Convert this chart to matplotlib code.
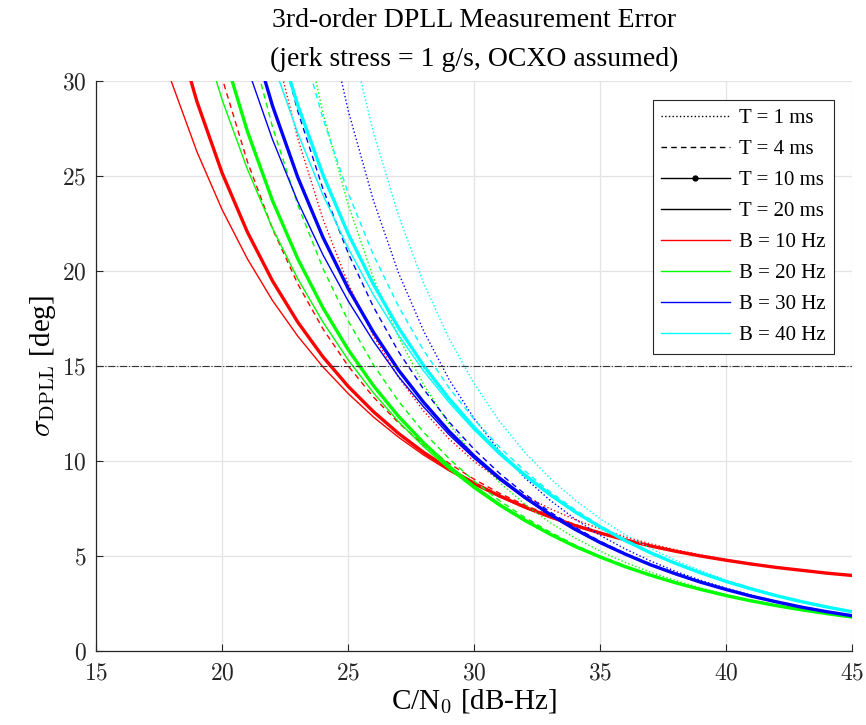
import numpy as np
import matplotlib
matplotlib.use("Agg")
import matplotlib.pyplot as plt
from matplotlib.lines import Line2D

plt.rcParams['font.family'] = ['Liberation Serif', 'DejaVu Serif']
plt.rcParams['mathtext.fontset'] = 'cm'

nan = np.nan

# C/N0 grid [dB-Hz] (sigma_DPLL in deg)
cn0 = list(range(17, 46))

# B = 10 Hz
b10_t1 = [nan, nan, nan, nan, 38.99, 32.31, 27.00, 22.75, 19.35, 16.62, 14.42, 12.64, 11.19, 10.00,
          9.02, 8.20, 7.52, 6.94, 6.45, 6.03, 5.66, 5.35, 5.08, 4.84, 4.63, 4.44, 4.28, 4.13, 4.01]
b10_t4 = [nan, nan, 35.60, 30.16, 25.78, 22.23, 19.34, 16.97, 15.02, 13.39, 12.03, 10.87, 9.90, 9.06,
          8.33, 7.71, 7.16, 6.68, 6.27, 5.90, 5.57, 5.28, 5.03, 4.80, 4.60, 4.42, 4.27, 4.13, 4.00]
b10_t10 = [nan, 33.52, 28.93, 25.17, 22.07, 19.49, 17.33, 15.50, 13.95, 12.62, 11.47, 10.47, 9.61, 8.85,
           8.19, 7.60, 7.09, 6.63, 6.23, 5.87, 5.55, 5.27, 5.02, 4.80, 4.60, 4.42, 4.27, 4.12, 4.00]
b10_t20 = [34.32, 29.93, 26.29, 23.24, 20.66, 18.46, 16.59, 14.97, 13.57, 12.34, 11.27, 10.33, 9.51, 8.78,
           8.14, 7.57, 7.06, 6.61, 6.21, 5.86, 5.55, 5.27, 5.02, 4.79, 4.60, 4.42, 4.26, 4.12, 4.00]

# B = 20 Hz
b20_t1 = [nan, nan, nan, nan, nan, 41.85, 34.34, 28.33, 23.52, 19.66, 16.54, 14.03, 11.97, 10.29,
          8.90, 7.76, 6.79, 5.97, 5.28, 4.68, 4.17, 3.73, 3.34, 2.99, 2.70, 2.44, 2.21, 2.00, 1.82]
b20_t4 = [nan, nan, nan, 38.82, 32.61, 27.59, 23.50, 20.16, 17.39, 15.09, 13.16, 11.53, 10.15, 8.96,
          7.94, 7.06, 6.29, 5.61, 5.02, 4.49, 4.04, 3.63, 3.27, 2.95, 2.67, 2.42, 2.19, 1.99, 1.81]
b20_t10 = [nan, nan, 37.07, 31.76, 27.37, 23.71, 20.66, 18.08, 15.88, 13.99, 12.37, 10.97, 9.74, 8.67,
           7.73, 6.91, 6.18, 5.53, 4.97, 4.46, 4.01, 3.61, 3.26, 2.94, 2.66, 2.41, 2.19, 1.99, 1.81]
b20_t20 = [nan, nan, 33.34, 29.02, 25.38, 22.26, 19.61, 17.33, 15.34, 13.61, 12.09, 10.77, 9.60, 8.57,
           7.66, 6.86, 6.15, 5.51, 4.95, 4.44, 4.00, 3.61, 3.25, 2.93, 2.65, 2.41, 2.18, 1.99, 1.81]

# B = 30 Hz
b30_t1 = [nan, nan, nan, nan, nan, nan, 41.70, 34.35, 28.47, 23.74, 19.91, 16.85, 14.32, 12.26,
          10.56, 9.15, 7.97, 6.97, 6.11, 5.39, 4.76, 4.21, 3.74, 3.33, 2.96, 2.64, 2.36, 2.11, 1.89]
b30_t4 = [nan, nan, nan, nan, nan, 33.45, 28.43, 24.34, 20.96, 18.14, 15.77, 13.79, 12.08, 10.64,
          9.38, 8.30, 7.35, 6.53, 5.80, 5.16, 4.60, 4.10, 3.66, 3.27, 2.92, 2.61, 2.34, 2.10, 1.88]
b30_t10 = [nan, nan, nan, nan, 33.17, 28.70, 24.95, 21.79, 19.10, 16.80, 14.80, 13.10, 11.59, 10.28,
           9.13, 8.12, 7.22, 6.43, 5.73, 5.12, 4.56, 4.08, 3.64, 3.26, 2.91, 2.61, 2.33, 2.09, 1.88]
b30_t20 = [nan, nan, nan, 35.19, 30.73, 26.93, 23.67, 20.87, 18.44, 16.33, 14.46, 12.86, 11.41, 10.16,
           9.04, 8.06, 7.18, 6.40, 5.71, 5.10, 4.55, 4.07, 3.64, 3.25, 2.91, 2.60, 2.33, 2.09, 1.88]

# B = 40 Hz
b40_t1 = [nan, nan, nan, nan, nan, nan, nan, 39.58, 32.79, 27.33, 22.93, 19.36, 16.47, 14.09,
          12.12, 10.49, 9.12, 7.97, 6.98, 6.14, 5.42, 4.79, 4.24, 3.76, 3.34, 2.97, 2.65, 2.36, 2.10]
b40_t4 = [nan, nan, nan, nan, nan, 38.55, 32.77, 28.03, 24.12, 20.87, 18.15, 15.83, 13.88, 12.21,
          10.76, 9.51, 8.41, 7.46, 6.62, 5.88, 5.23, 4.66, 4.15, 3.70, 3.30, 2.94, 2.62, 2.34, 2.09]
b40_t10 = [nan, nan, nan, nan, nan, 33.07, 28.75, 25.08, 21.98, 19.32, 17.03, 15.03, 13.31, 11.79,
           10.46, 9.30, 8.27, 7.35, 6.55, 5.83, 5.19, 4.63, 4.13, 3.68, 3.29, 2.93, 2.62, 2.34, 2.09]
b40_t20 = [nan, nan, nan, nan, 35.40, 31.03, 27.27, 24.02, 21.22, 18.77, 16.64, 14.75, 13.11, 11.65,
           10.36, 9.22, 8.21, 7.32, 6.52, 5.81, 5.18, 4.62, 4.12, 3.68, 3.28, 2.93, 2.62, 2.34, 2.09]

threshold = 15

bw_labels = ['B = 10 Hz', 'B = 20 Hz', 'B = 30 Hz', 'B = 40 Hz']
t_labels = ['T = 1 ms', 'T = 4 ms', 'T = 10 ms', 'T = 20 ms']
colors = ['#ff0000', '#00ff00', '#0000ff', '#00ffff']

curves = [[b10_t1, b10_t4, b10_t10, b10_t20],
          [b20_t1, b20_t4, b20_t10, b20_t20],
          [b30_t1, b30_t4, b30_t10, b30_t20],
          [b40_t1, b40_t4, b40_t10, b40_t20]]

# one style per integration time
t_styles = [dict(linestyle=':', linewidth=1.0),
            dict(linestyle=(0, (4, 3)), linewidth=1.0),
            dict(linestyle='-', linewidth=2.4),
            dict(linestyle='-', linewidth=1.0)]

fig = plt.figure(figsize=(8.66, 7.25), dpi=100)
ax = fig.add_axes([0.111, 0.1014, 0.873, 0.7866])

for color, group in zip(colors, curves):
    for style, ys in zip(t_styles, group):
        ax.plot(cn0, ys, color=color, **style)

ax.axhline(threshold, color='#333333', linestyle='-.', linewidth=0.8)

ax.set_xlim(15, 45)
ax.set_ylim(0, 30)
xt = [15, 20, 25, 30, 35, 40, 45]
yt = [0, 5, 10, 15, 20, 25, 30]
ax.set_xticks(xt)
ax.set_yticks(yt)
ax.set_xticklabels([f'${v}$' for v in xt], fontsize=17)
ax.set_yticklabels([f'${v}$' for v in yt], fontsize=17)
ax.tick_params(direction='in', length=5, width=0.8, colors='#262626')
ax.tick_params(axis='x', pad=9)
ax.tick_params(axis='y', pad=7)
ax.grid(True, color='#e3e3e3', linewidth=0.9)
ax.set_axisbelow(True)
for side in ['top', 'right']:
    ax.spines[side].set_visible(False)
for side in ['left', 'bottom']:
    ax.spines[side].set_color('#262626')
    ax.spines[side].set_linewidth(0.9)

ax.set_xlabel('C/N$_0$ [dB-Hz]', fontsize=21, labelpad=2)
ax.set_ylabel(r'$\sigma_{\rm DPLL}$ [deg]', fontsize=21, labelpad=3)
ax.set_title('3rd-order DPLL Measurement Error\n(jerk stress = 1 g/s, OCXO assumed)',
             fontsize=20, linespacing=1.7, pad=11)

handles = [Line2D([], [], color='k', linestyle=':', linewidth=1.0),
           Line2D([], [], color='k', linestyle=(0, (4, 3)), linewidth=1.0),
           Line2D([], [], color='k', linestyle='-', linewidth=1.0, marker='.', markersize=7),
           Line2D([], [], color='k', linestyle='-', linewidth=1.0)]
handles += [Line2D([], [], color=c, linewidth=1.0) for c in colors]
leg = ax.legend(handles, t_labels + bw_labels, loc='upper right',
                bbox_to_anchor=(0.976, 0.967), borderaxespad=0, fontsize=15,
                handlelength=3.3, handletextpad=0.45, labelspacing=0.55,
                fancybox=False, framealpha=1, edgecolor='#262626', numpoints=1)
leg.get_frame().set_linewidth(0.8)

fig.savefig('out.png', dpi=100)
